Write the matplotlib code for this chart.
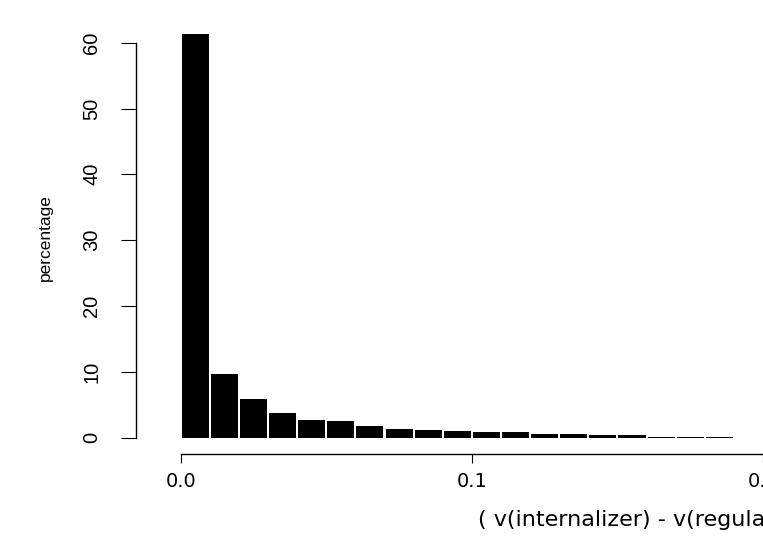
import matplotlib
matplotlib.use("Agg")
import matplotlib.pyplot as plt
from matplotlib import font_manager

# histogram of relative differences, bins of width 0.01
bin_edges = [i / 100 for i in range(20)]
bin_width = 0.01
percentages = [61.3, 9.7, 5.9, 3.7, 2.6, 2.5, 1.8, 1.3, 1.15, 0.95,
               0.9, 0.8, 0.6, 0.5, 0.42, 0.33, 0.15, 0.15, 0.15]
x_ticks = [0.0, 0.1, 0.2]
x_tick_labels = ["0.0", "0.1", "0.2"]
y_ticks = [0, 10, 20, 30, 40, 50, 60]
x_label = "( v(internalizer) - v(regular) ) / v(regular)"
y_label = "percentage"


def pick_font(names):
    for name in names:
        try:
            font_manager.findfont(name, fallback_to_default=False)
            return name
        except Exception:
            pass
    return "DejaVu Sans"


narrow = pick_font(["Liberation Sans Narrow", "Liberation Sans"])
wide = "DejaVu Sans"

W, H = 763, 545
fig = plt.figure(figsize=(W / 100, H / 100), dpi=100)
# axes box: left spine at px 136, bottom spine at px 454
ax = fig.add_axes([136 / W, 1 - 454 / H, 1 - 136 / W, (454 - 20) / H])

gap = 0.0007  # white gap between neighbouring bars
lefts = [e + gap / 2 for e in bin_edges[:len(percentages)]]
ax.bar(lefts, percentages, width=bin_width - gap, align="edge",
       color="black", linewidth=0)

ax.set_xlim(-45 / 2930, (W - 181) / 2930)
ax.set_ylim(-16.5 / 6.58, (437.5 - 20) / 6.58)

for s in ["top", "right"]:
    ax.spines[s].set_visible(False)
ax.spines["left"].set_bounds(0, 60)
ax.spines["bottom"].set_bounds(0, 0.2)
ax.spines["left"].set_linewidth(1.0)
ax.spines["bottom"].set_linewidth(1.0)

ax.set_yticks(y_ticks)
ax.set_yticklabels([str(v) for v in y_ticks], rotation=90, va="center",
                   fontsize=14.5, family=narrow)
ax.tick_params(axis="y", length=11, width=0.8, pad=14)

ax.set_xticks(x_ticks)
ax.set_xticklabels(x_tick_labels, fontsize=14, family=wide)
ax.tick_params(axis="x", length=6.5, width=0.8, pad=6.5)

fig.text(45 / W, 1 - 238 / H, y_label, rotation=90, ha="center", va="center",
         fontsize=12.5, family=narrow)
fig.text(478 / W, 1 - 520 / H, x_label, ha="left", va="center",
         fontsize=16, family=wide)

fig.savefig("out.png", dpi=100)
